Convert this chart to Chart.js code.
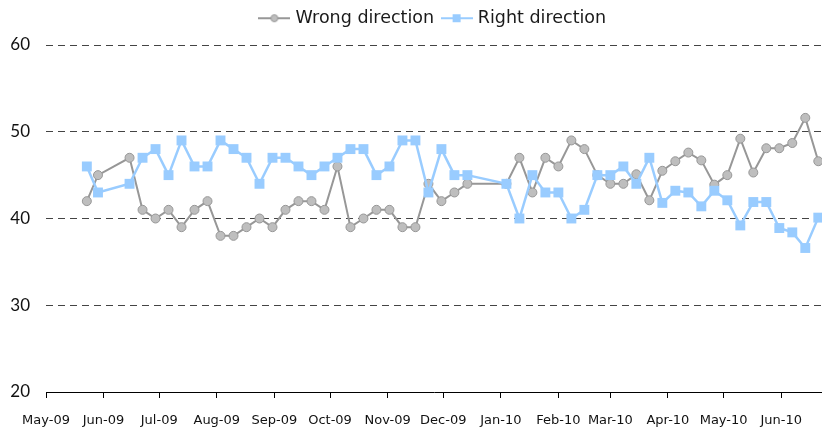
<!DOCTYPE html>
<html>
<head>
<meta charset="utf-8">
<script src="https://cdn.jsdelivr.net/npm/chart.js@4/dist/chart.umd.min.js"></script>
<style>
  html, body { margin: 0; padding: 0; background: #fff; }
  #wrap { width: 822px; height: 432px; position: relative; }
</style>
</head>
<body>
<div id="wrap"><canvas id="chart"></canvas></div>
<script>
// weekly poll dates
const pollDates = [
  '2009-05-23', '2009-05-29', '2009-06-15', '2009-06-22', '2009-06-29', '2009-07-06',
  '2009-07-13', '2009-07-20', '2009-07-27', '2009-08-03', '2009-08-10', '2009-08-17',
  '2009-08-24', '2009-08-31', '2009-09-07', '2009-09-14', '2009-09-21', '2009-09-28',
  '2009-10-05', '2009-10-12', '2009-10-19', '2009-10-26', '2009-11-02', '2009-11-09',
  '2009-11-16', '2009-11-23', '2009-11-30', '2009-12-07', '2009-12-14',
  '2010-01-04', '2010-01-11', '2010-01-18', '2010-01-25', '2010-02-01', '2010-02-08',
  '2010-02-15', '2010-02-22', '2010-03-01', '2010-03-08', '2010-03-15', '2010-03-22',
  '2010-03-29', '2010-04-05', '2010-04-12', '2010-04-19', '2010-04-26', '2010-05-03',
  '2010-05-10', '2010-05-17', '2010-05-24', '2010-05-31', '2010-06-07', '2010-06-14',
  '2010-06-21',
];

const wrongDirection = [
  42, 45, 47, 41, 40, 41, 39, 41, 42, 38, 38, 39, 40, 39, 41, 42, 42, 41,
  46, 39, 40, 41, 41, 39, 39, 44, 42, 43, 44,
  44, 47, 43, 47, 46, 49, 48, 45, 44, 44, 45.1, 42.1, 45.5, 46.6, 47.6, 46.7,
  43.9, 45, 49.2, 45.3, 48.1, 48.1, 48.7, 51.6, 46.6,
];

const rightDirection = [
  46, 43, 44, 47, 48, 45, 49, 46, 46, 49, 48, 47, 44, 47, 47, 46, 45, 46,
  47, 48, 48, 45, 46, 49, 49, 43, 48, 45, 45,
  44, 40, 45, 43, 43, 40, 41, 45, 45, 46, 44, 47, 41.8, 43.2, 43, 41.4,
  43.2, 42.1, 39.2, 41.9, 41.9, 38.9, 38.4, 36.6, 40.1,
];

const monthTicks = [
  '2009-05-01', '2009-06-01', '2009-07-01', '2009-08-01', '2009-09-01', '2009-10-01',
  '2009-11-01', '2009-12-01', '2010-01-01', '2010-02-01', '2010-03-01', '2010-04-01',
  '2010-05-01', '2010-06-01',
];
const monthLabels = [
  'May-09', 'Jun-09', 'Jul-09', 'Aug-09', 'Sep-09', 'Oct-09', 'Nov-09', 'Dec-09',
  'Jan-10', 'Feb-10', 'Mar-10', 'Apr-10', 'May-10', 'Jun-10',
];
const axisStart = '2009-05-01';
const axisEnd   = '2010-06-23';
const yTicks = [20, 30, 40, 50, 60];

const GRAY      = '#979797';
const GRAY_FILL = '#bebebe';
const BLUE      = '#99ccff';

const BASE = Date.UTC(2009, 4, 1);
function toDay(s) {
  const [y, m, d] = s.split('-').map(Number);
  return (Date.UTC(y, m - 1, d) - BASE) / 86400000;
}

// let the plot run to the canvas edge, markers may overhang
Chart.LineController.prototype.getMaxOverflow = function () { return 0; };

// small line+marker picture for the legend
function legendIcon(kind) {
  const c = document.createElement('canvas');
  c.width = 32; c.height = 12;
  const g = c.getContext('2d');
  g.strokeStyle = kind === 'circle' ? GRAY : BLUE;
  g.lineWidth = 2;
  g.beginPath(); g.moveTo(0, 6); g.lineTo(32, 6); g.stroke();
  if (kind === 'circle') {
    g.fillStyle = GRAY_FILL;
    g.beginPath(); g.arc(16, 6, 3.5, 0, Math.PI * 2); g.fill();
    g.lineWidth = 1; g.strokeStyle = GRAY; g.stroke();
  } else {
    g.fillStyle = BLUE;
    g.fillRect(12, 2, 8, 8);
  }
  return c;
}

const icons = [legendIcon('circle'), legendIcon('rect')];

// the legend sits a bit higher than chart.js would put it
const liftLegend = {
  id: 'liftLegend',
  afterLayout(chart) {
    if (!chart.legend) return;
    chart.legend.top    -= 8;
    chart.legend.bottom -= 8;
  },
};

new Chart(document.getElementById('chart'), {
  type: 'line',
  plugins: [liftLegend],
  data: {
    datasets: [
      {
        label:            'Wrong direction',
        data:             pollDates.map((d, i) => ({ x: toDay(d), y: wrongDirection[i] })),
        borderColor:      GRAY,
        borderWidth:      2,
        pointStyle:       'circle',
        pointRadius:      4.5,
        pointBackgroundColor: GRAY_FILL,
        pointBorderColor: GRAY,
        pointBorderWidth: 1,
        order:            2,
      },
      {
        label:            'Right direction',
        data:             pollDates.map((d, i) => ({ x: toDay(d), y: rightDirection[i] })),
        borderColor:      BLUE,
        borderWidth:      2.5,
        pointStyle:       'rect',
        pointRadius:      7,
        pointBackgroundColor: BLUE,
        pointBorderColor: BLUE,
        pointBorderWidth: 0,
        order:            1,
      },
    ],
  },
  options: {
    responsive:          true,
    maintainAspectRatio: false,
    animation:           false,
    layout: { padding: 0 },
    plugins: {
      tooltip: { enabled: false },
      legend: {
        position: 'top',
        fullSize: false,
        labels: {
          usePointStyle:   true,
          pointStyleWidth: 25,
          padding:         10,
          color:           '#1a1a1a',
          font:            { family: 'DejaVu Sans', size: 17.5 },
          sort:            (a, b) => a.datasetIndex - b.datasetIndex,
          generateLabels: (chart) => {
            const items = Chart.defaults.plugins.legend.labels.generateLabels(chart);
            items.forEach(it => { it.pointStyle = icons[it.datasetIndex]; });
            return items;
          },
        },
      },
    },
    scales: {
      x: {
        type: 'linear',
        min:  toDay(axisStart),
        max:  toDay(axisEnd),
        afterBuildTicks: (scale) => { scale.ticks = monthTicks.map(d => ({ value: toDay(d) })); },
        afterFit: (scale) => {
          scale.height = 40;
          scale.paddingLeft = 0;
          scale.paddingRight = 0;
        },
        ticks: {
          autoSkip:    false,
          maxRotation: 0,
          padding:     15,
          color:       '#111',
          font:        { family: 'DejaVu Sans', size: 13 },
          callback:    (v, i) => monthLabels[i],
        },
        grid:   { drawOnChartArea: false, drawTicks: true, tickLength: 6, color: '#000' },
        border: { display: true, color: '#000', width: 1 },
      },
      y: {
        min: 20,
        max: 60,
        afterBuildTicks: (scale) => { scale.ticks = yTicks.map(v => ({ value: v })); },
        afterFit: (scale) => {
          scale.width = 46;
          scale.paddingTop = 45;
        },
        ticks: {
          padding: 16,
          color:   '#111',
          font:    { family: 'Lato', size: 17 },
        },
        grid: {
          drawTicks: false,
          color: (ctx) => ctx.tick && ctx.tick.value === 20 ? 'rgba(0,0,0,0)' : '#444',
          lineWidth: 1,
        },
        border: { display: false, dash: [7, 5] },
      },
    },
  },
});
</script>
</body>
</html>
